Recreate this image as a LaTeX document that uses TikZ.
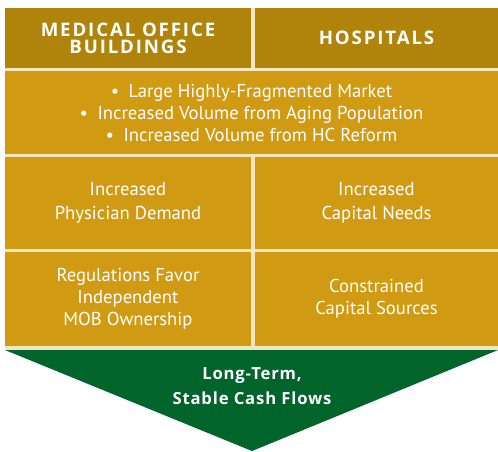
\documentclass[tikz,border=0pt]{standalone}
\usepackage{fontspec}
\setmainfont{PT Sans}
\newfontfamily\headfont{Open Sans}[LetterSpace=10]
\newfontfamily\cashfont{Open Sans}[LetterSpace=5]
\usepackage{tikz}

\definecolor{hdgold}{HTML}{B0830A}
\definecolor{cellgold}{HTML}{D19A13}
\definecolor{cream}{HTML}{F5E6C2}
\definecolor{darkgreen}{HTML}{00642B}

\tikzset{
  cell/.style={anchor=north west, inner sep=0pt, outer sep=0pt, fill=cellgold,
    text=white, align=center, font=\fontsize{14}{16.5}\selectfont},
  headcell/.style={cell, fill=hdgold, font=\headfont\bfseries\fontsize{14}{13}\selectfont},
}

\begin{document}
\begin{tikzpicture}[x=0.75pt,y=-0.75pt]
\useasboundingbox (0,0) rectangle (498,451);
\fill [cream] (5,8) rectangle (498,350);

\node (mob) [headcell, minimum width=184.5pt, minimum height=45pt] at (5,8)
  {MEDICAL OFFICE\\BUILDINGS};
\node (hosp) [headcell, minimum width=182.25pt, minimum height=45pt] at (255,8)
  {\raisebox{-3pt}{HOSPITALS}};

\node (market) [cell, minimum width=369.75pt, minimum height=62.25pt] at (5,71)
  {\textbullet\enspace Large Highly-Fragmented Market\\
   \textbullet\enspace Increased Volume from Aging Population\\
   \textbullet\enspace Increased Volume from HC Reform};

\node (demand) [cell, minimum width=184.5pt, minimum height=69pt] at (5,157)
  {Increased\\[1.5pt]Physician Demand};
\node (needs) [cell, minimum width=182.25pt, minimum height=69pt] at (255,157)
  {Increased\\[1.5pt]Capital Needs};

\node (regs) [cell, minimum width=184.5pt, minimum height=70.5pt] at (5,252)
  {Regulations Favor\\Independent\\MOB Ownership};
\node (sources) [cell, minimum width=182.25pt, minimum height=70.5pt] at (255,252)
  {Constrained\\Capital Sources};

% arrow at the bottom
\coordinate (al) at (5,350);
\coordinate (ar) at (498,350);
\coordinate (tip) at (252,451);
\fill [darkgreen] (al) -- (ar) -- (tip) -- cycle;
\node (cash) [align=center, text=white, font=\cashfont\bfseries\fontsize{12.5}{18.5}\selectfont]
  at (252,386) {Long-Term,\\Stable Cash Flows};
\end{tikzpicture}
\end{document}
